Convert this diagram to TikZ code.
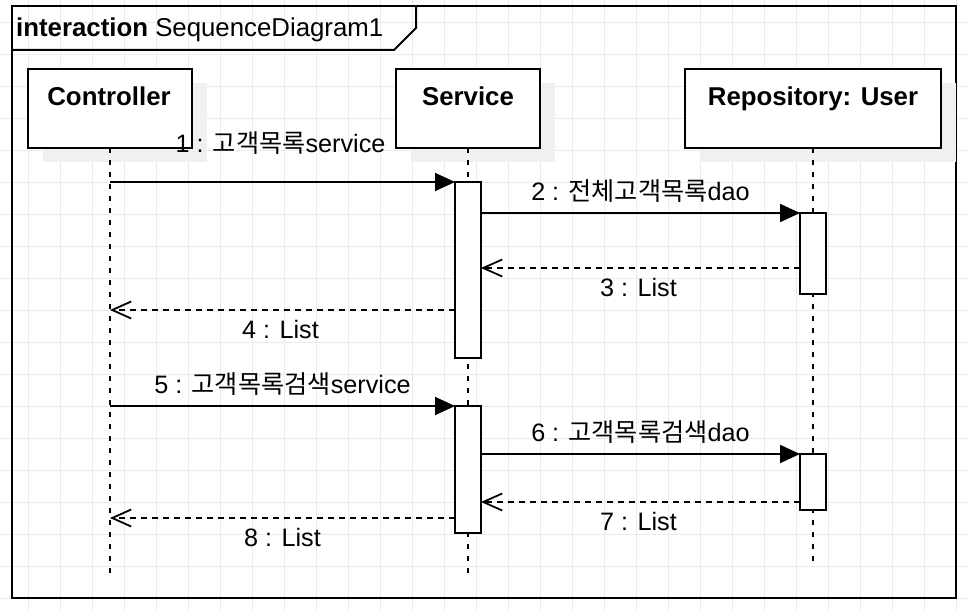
\documentclass[tikz,border=0pt]{standalone}
\usepackage{fontspec}
\setmainfont{Liberation Sans}
\newfontfamily\kr{Noto Sans CJK KR}
\usepackage{tikz}
\usetikzlibrary{arrows.meta,shadows}

\definecolor{gridgray}{HTML}{EBEBEB}
\definecolor{shadowgray}{HTML}{F0F0F0}
\newcommand\fsz{\fontsize{25.2}{30}\selectfont}
\newcommand\hsz{\fontsize{25.8}{31}\selectfont}

\begin{document}
\begin{tikzpicture}[x=1pt,y=-1pt,font=\fsz,
  gridline/.style={draw=gridgray,line width=1pt},
  frameline/.style={line width=2pt},
  lifehead/.style={draw,fill=white,line width=1.8pt,minimum height=79pt,inner sep=0pt,outer sep=0pt,
    general shadow={fill=shadowgray,shadow xshift=14.5pt,shadow yshift=-14pt}},
  headname/.style={anchor=base,font=\hsz\bfseries},
  lifeline/.style={line width=1.8pt,dash pattern=on 5pt off 7pt},
  activation/.style={draw,fill=white,line width=1.8pt,minimum width=26pt,inner sep=0pt,outer sep=0pt},
  call/.style={line width=1.8pt,-{Triangle[length=20pt,width=18pt]}},
  reply/.style={line width=1.8pt,dash pattern=on 6pt off 5pt,-{Straight Barb[length=19pt,width=17pt]}},
  msgabove/.style={anchor=base,yshift=13pt,inner sep=0pt},
  msgbelow/.style={anchor=base,yshift=-28pt,inner sep=0pt}]

  \useasboundingbox (0,0) rectangle (968,610);

  % background grid
  \foreach \i in {0,...,29}
    \draw[gridline] ({28.3+32*\i},0) -- ({28.3+32*\i},610);
  \foreach \j in {0,...,18}
    \draw[gridline] (0,{22.3+32*\j}) -- (968,{22.3+32*\j});

  % frame
  \node[draw,frameline,anchor=north west,minimum width=944pt,minimum height=592pt,inner sep=0pt,outer sep=0pt] (frame) at (12,6) {};
  \draw[frameline] (12,50) -- (394,50) -- (416,28) -- (416,6);
  \node[anchor=base west,inner sep=0pt,font=\hsz] (title) at (16,36.5) {\textbf{interaction} SequenceDiagram1};

  % lifeline heads
  \node[lifehead,minimum width=164pt] (ctrl) at (110,108.5) {};
  \node[lifehead,minimum width=144pt] (serv) at (468,108.5) {};
  \node[lifehead,minimum width=256pt] (repo) at (813,108.5) {};
  \node[headname] (ctrlname) at (109,105) {Controller};
  \node[headname] (servname) at (468,105) {Service};
  \node[headname] (reponame) at (813,105) {Repository: User};

  % lifelines
  \draw[lifeline] (ctrl.south) -- (110,576);
  \draw[lifeline] (serv.south) -- (468,576);
  \draw[lifeline] (repo.south) -- (813,561);

  % activations
  \node[activation,minimum height=176pt] (sa1) at (468,270) {};
  \node[activation,minimum height=127pt] (sa2) at (468,469.5) {};
  \node[activation,minimum height=81pt] (ra1) at (813,253.5) {};
  \node[activation,minimum height=56pt] (ra2) at (813,482) {};

  \path
    (ctrl.south |- sa1.north west) edge[call] node[msgabove,yshift=17pt,xshift=-2pt] {1 : {\kr 고객목록}service} (sa1.north west)
    (sa1.east |- ra1.north) edge[call] node[msgabove] {2 : {\kr 전체고객목록}dao} (ra1.north west)
    (ra1.west |- 0,268) edge[reply] node[msgbelow,xshift=-2pt] {3 : List} (sa1.east |- 0,268)
    (sa1.west |- 0,310) edge[reply] node[msgbelow,xshift=-2pt] {4 : List} (ctrl.south |- 0,310)

    (ctrl.south |- sa2.north west) edge[call] node[msgabove] {5 : {\kr 고객목록검색}service} (sa2.north west)
    (sa2.east |- ra2.north) edge[call] node[msgabove] {6 : {\kr 고객목록검색}dao} (ra2.north west)
    (ra2.west |- 0,502) edge[reply] node[msgbelow,xshift=-2pt] {7 : List} (sa2.east |- 0,502)
    (sa2.west |- 0,518) edge[reply] node[msgbelow] {8 : List} (ctrl.south |- 0,518);
\end{tikzpicture}
\end{document}
